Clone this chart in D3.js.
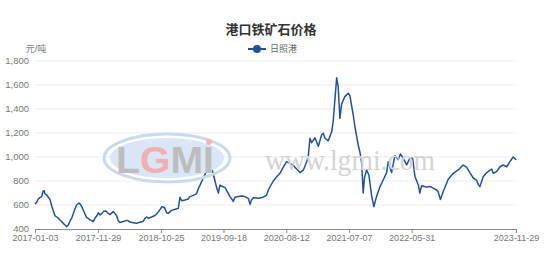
<!DOCTYPE html>
<html>
<head>
<meta charset="utf-8">
<script src="https://cdn.jsdelivr.net/npm/d3@7"></script>
<style>
  body { margin: 0; background: #fff; }
  svg { font-family: "Liberation Sans", "Noto Sans CJK SC", sans-serif; }
  .grid line { stroke: #e9ecf2; }
  .axis text { fill: #777; }
</style>
</head>
<body>
<div id="chart"></div>
<script>
const TITLE = '港口铁矿石价格';
const UNIT = '元/吨';
const SERIES_NAME = '日照港';

const dates = [
  '2017-01-03','2017-01-11','2017-01-20','2017-01-27','2017-02-07','2017-02-14','2017-02-20','2017-02-24',
  '2017-03-05','2017-03-14','2017-03-23','2017-04-01','2017-04-09','2017-04-18','2017-04-27','2017-05-05',
  '2017-05-14','2017-05-23','2017-05-31','2017-06-09','2017-06-18','2017-06-27','2017-07-05','2017-07-14',
  '2017-07-23','2017-08-01','2017-08-09','2017-08-22','2017-08-29','2017-09-05','2017-09-13','2017-09-22',
  '2017-10-01','2017-10-09','2017-10-18','2017-10-27','2017-11-04','2017-11-13','2017-11-22','2017-12-01',
  '2017-12-10','2017-12-19','2017-12-27',
  '2018-01-10','2018-01-22','2018-01-31','2018-02-17','2018-02-26','2018-03-07','2018-03-15','2018-03-24',
  '2018-04-11','2018-04-28','2018-05-07','2018-05-16','2018-06-02','2018-06-20','2018-07-07','2018-07-25',
  '2018-08-03','2018-08-11','2018-08-20','2018-09-06','2018-09-24','2018-10-11','2018-10-20','2018-10-29',
  '2018-11-06','2018-11-15','2018-11-24','2018-12-02','2018-12-20',
  '2019-01-07','2019-01-24','2019-02-02','2019-02-11','2019-02-28','2019-03-17','2019-03-26','2019-04-13',
  '2019-04-30','2019-05-09','2019-05-26','2019-06-13','2019-06-30','2019-07-09','2019-07-18','2019-07-26',
  '2019-08-13','2019-08-22','2019-08-30','2019-09-08','2019-09-26','2019-10-13','2019-10-22','2019-10-31',
  '2019-11-08','2019-11-17','2019-12-05','2019-12-22',
  '2020-01-08','2020-01-26','2020-02-04','2020-02-11','2020-02-21','2020-03-18','2020-04-13','2020-05-01',
  '2020-05-10','2020-05-18','2020-06-05','2020-06-23','2020-07-10','2020-07-27','2020-08-14','2020-08-31',
  '2020-09-18','2020-10-05','2020-10-23','2020-11-09','2020-11-27','2020-12-05','2020-12-14','2020-12-23',
  '2021-01-09','2021-01-27','2021-02-13','2021-02-22','2021-03-03','2021-03-20','2021-04-07','2021-04-15',
  '2021-04-24','2021-05-03','2021-05-11','2021-05-20','2021-05-29','2021-06-07','2021-06-15','2021-07-03',
  '2021-07-12','2021-07-20','2021-07-29','2021-08-07','2021-08-24','2021-09-02','2021-09-11','2021-09-19',
  '2021-09-26','2021-10-07','2021-10-19','2021-11-02','2021-11-14','2021-11-28','2021-12-16',
  '2022-01-02','2022-01-20','2022-01-28','2022-02-15','2022-03-04','2022-03-22','2022-04-02','2022-04-17',
  '2022-05-05','2022-05-22','2022-06-05','2022-06-17','2022-07-05','2022-07-13','2022-07-22','2022-08-17',
  '2022-09-04','2022-09-21','2022-10-09','2022-10-17','2022-10-29','2022-11-13','2022-12-09',
  '2023-01-04','2023-01-30','2023-02-25','2023-03-15','2023-04-01','2023-04-19','2023-05-06','2023-05-15',
  '2023-05-24','2023-06-10','2023-06-28','2023-07-06','2023-07-24','2023-08-02','2023-08-19','2023-09-06',
  '2023-09-23','2023-10-11','2023-10-28','2023-11-14','2023-11-23','2023-11-29'
];

const prices = [
  610, 620, 650, 660, 670, 715, 720, 695,
  683, 665, 645, 590, 550, 510, 500, 490,
  475, 460, 447, 433, 420, 433, 465, 490,
  530, 570, 600, 617, 605, 586, 558, 525,
  495, 489, 475, 472, 462, 489, 508, 535,
  517, 528, 545,
  550, 530, 520, 545, 530, 510, 470, 455,
  462, 472, 468, 458, 453, 448, 457, 465,
  490, 500, 490, 500, 512, 540, 562, 583,
  585, 572, 535, 530, 555,
  564, 572, 665, 635, 642, 650, 670, 680,
  695, 735, 794, 855, 912, 930, 906, 860,
  745, 700, 765, 758, 745, 697, 670, 650,
  630, 665, 670, 675,
  670, 655, 605, 640, 660, 656, 665, 683,
  725, 750, 800, 836, 864, 915, 961, 947,
  930, 900, 870, 890, 960, 1003, 1156, 1120,
  1160, 1090, 1183, 1197, 1156, 1135, 1210, 1300,
  1480, 1660, 1586, 1322, 1440, 1475, 1503, 1531,
  1510, 1430, 1350, 1250, 1100, 1040, 950, 700,
  830, 892, 850, 680, 586, 670, 753,
  808, 870, 961, 870, 1010, 980, 1025, 989,
  935, 990, 990, 840, 767, 700, 760, 750,
  755, 740, 725, 711, 645, 715, 815,
  864, 892, 933, 915, 870, 825, 808, 770,
  753, 836, 870, 878, 900, 864, 878, 919,
  933, 919, 961, 1000, 989, 975
];

const xTickDates = ['2017-01-03','2017-11-29','2018-10-25','2019-09-18','2020-08-12','2021-07-07','2022-05-31','2023-11-29'];
const yTicks = [400, 600, 800, 1000, 1200, 1400, 1600, 1800];

const width = 554, height = 257;
const MARGIN = { top: 61, right: 38, bottom: 28, left: 35 };
const innerW = width - MARGIN.left - MARGIN.right;
const innerH = height - MARGIN.top - MARGIN.bottom;

const parse = d3.timeParse('%Y-%m-%d');
const series = dates.map((d, i) => ({ date: parse(d), value: prices[i] }));

const svg = d3.select('#chart').append('svg')
  .attr('width', width).attr('height', height)
  .attr('viewBox', `0 0 ${width} ${height}`);

const x = d3.scaleTime().domain([parse(xTickDates[0]), parse(xTickDates[xTickDates.length - 1])]).range([0, innerW]);
const y = d3.scaleLinear().domain([400, 1800]).range([innerH, 0]);

const g = svg.append('g').attr('transform', `translate(${MARGIN.left},${MARGIN.top})`);

// watermark
const wm = svg.append('g').attr('class', 'watermark');
wm.append('ellipse').attr('cx', 167).attr('cy', 158).attr('rx', 63).attr('ry', 24)
  .attr('fill', 'none').attr('stroke', '#c9d9ee').attr('stroke-width', 3);
wm.append('ellipse').attr('cx', 167).attr('cy', 158).attr('rx', 57).attr('ry', 20)
  .attr('fill', '#d9e6f5');
wm.append('text').attr('x', 116).attr('y', 173)
  .attr('font-family', 'Liberation Sans, sans-serif').attr('font-weight', 'bold')
  .attr('font-size', 36).attr('textLength', 98).attr('lengthAdjust', 'spacingAndGlyphs')
  .attr('fill', '#b9b9b9')
  .selectAll('tspan').data(['L', 'G', 'M', 'I']).join('tspan')
  .attr('fill', (d) => d === 'G' ? '#f2aeb0' : '#bdbdbd')
  .text((d) => d);
wm.append('circle').attr('cx', 209).attr('cy', 142).attr('r', 3).attr('fill', '#f4b6b6');
wm.append('text').attr('x', 265).attr('y', 170)
  .attr('font-family', 'Liberation Serif, serif').attr('font-size', 30)
  .attr('textLength', 170).attr('lengthAdjust', 'spacingAndGlyphs')
  .attr('fill', '#d4d4d4').text('www.lgmi.com');

// grid
g.append('g').attr('class', 'grid')
  .selectAll('line').data(yTicks.slice(1)).join('line')
  .attr('x1', 0).attr('x2', innerW)
  .attr('y1', (d) => y(d)).attr('y2', (d) => y(d));

// y labels
g.append('g').attr('class', 'axis')
  .selectAll('text').data(yTicks).join('text')
  .attr('x', -6).attr('y', (d) => y(d)).attr('dy', '0.35em')
  .attr('text-anchor', 'end').attr('font-size', 9.5)
  .text(d3.format(','));

// x axis
const xAxis = g.append('g').attr('class', 'axis')
  .attr('transform', `translate(0,${innerH})`)
  .call(d3.axisBottom(x).tickValues(xTickDates.map(parse)).tickSize(4).tickPadding(2)
    .tickFormat(d3.timeFormat('%Y-%m-%d')));
xAxis.select('.domain').attr('stroke', '#8a8a8a');
xAxis.selectAll('.tick line').attr('stroke', '#8a8a8a');
xAxis.selectAll('.tick text').attr('font-size', 9).attr('font-family', 'Liberation Sans, sans-serif').attr('fill', '#777');

// line
const line = d3.line().x((p) => x(p.date)).y((p) => y(p.value));
g.append('path').datum(series)
  .attr('fill', 'none').attr('stroke', '#2150a3').attr('stroke-width', 1.5)
  .attr('stroke-linejoin', 'round').attr('d', line);

// title, unit, legend
svg.append('text').attr('x', 271).attr('y', 34).attr('text-anchor', 'middle')
  .attr('font-size', 13).attr('font-weight', 'bold').attr('fill', '#333').text(TITLE);
svg.append('text').attr('x', 36).attr('y', 52).attr('text-anchor', 'middle')
  .attr('font-size', 9).attr('fill', '#777').text(UNIT);
const lg = svg.append('g').attr('transform', 'translate(248,49)');
lg.append('line').attr('x1', 0).attr('x2', 18).attr('stroke', '#2150a3').attr('stroke-width', 2);
lg.append('circle').attr('cx', 9).attr('r', 4).attr('fill', '#2150a3');
lg.append('text').attr('x', 22).attr('dy', '0.35em').attr('font-size', 9).attr('fill', '#666').text(SERIES_NAME);
</script>
</body>
</html>
